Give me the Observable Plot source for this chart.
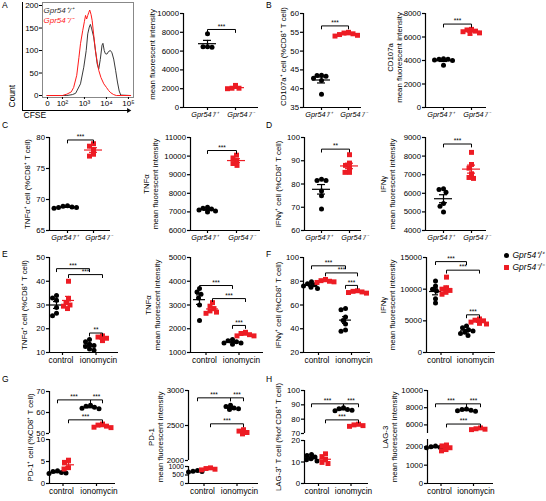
<!DOCTYPE html>
<html><head><meta charset="utf-8">
<script src="https://cdn.jsdelivr.net/npm/d3@7"></script>
<script src="https://cdn.jsdelivr.net/npm/@observablehq/plot@0.6"></script>
<style>
body{margin:0;background:#fff}
#root{position:relative;width:546px;height:501px;overflow:hidden;font-family:'Liberation Sans',Arial,sans-serif;background:#fff}
#root svg{position:absolute;background:transparent!important;overflow:visible}
.lt{position:absolute;font-size:8.5px;color:#000;line-height:1}
</style></head><body><div id="root"></div>
<script>
// ---------------- DATA ----------------
const genotypes = ["Gpr54⁺/⁺", "Gpr54⁻/⁻"];
const conditions = ["control", "ionomycin"];

// A: CFSE histogram (x = log10 decade position, "0" drawn at 1.32)
const cfseTicks = [1.32, 2, 3, 4, 5];
const cfseTickLabels = ["0", "10²", "10³", "10⁴", "10⁵"];
const countTicks = [0, 50, 100, 150, 200];
const histWTx = [1.3, 2.2, 2.45, 2.6, 2.82, 2.97, 3.08, 3.15, 3.22, 3.27, 3.33, 3.42, 3.5, 3.58, 3.65, 3.72, 3.8, 3.84, 3.9, 3.95, 4.02, 4.1, 4.18, 4.25, 4.33, 4.42, 4.5, 4.58, 4.65, 5.1];
const histWTcount = [0, 0, 2, 5, 26, 63, 100, 137, 152, 158, 148, 130, 100, 70, 59, 80, 112, 116, 100, 93, 92, 98, 100, 95, 81, 55, 30, 10, 1, 0];
const histKOx = [1.3, 2.0, 2.2, 2.4, 2.51, 2.65, 2.75, 2.82, 2.92, 3.0, 3.05, 3.1, 3.15, 3.2, 3.24, 3.3, 3.35, 3.42, 3.5, 3.58, 3.65, 3.75, 3.88, 4.0, 4.1, 4.2, 4.33, 4.45, 5.1];
const histKOcount = [0, 0, 3, 8, 18, 45, 85, 115, 144, 165, 178, 170, 178, 185, 190, 180, 167, 135, 100, 75, 56, 40, 26, 18, 11, 6, 2, 0, 0];

// Two-group panels: [WT values, KO values]
const cfseMfi = [[7850, 6450, 6400, 6450], [2000, 2050, 2050, 2350]];
const cd107aPct = [[43.6, 43.5, 43.3, 42.8, 42.2, 38.5], [55.0, 54.8, 54.6, 54.4, 54.2, 54.0]];
const cd107aMfi = [[4150, 4100, 4100, 4050, 4000, 3600], [6650, 6600, 6500, 6450, 6350, 6300]];
const tnfPct = [[69.0, 68.9, 68.8, 68.7, 68.7, 68.6], [79.0, 78.6, 78.0, 77.3, 77.0]];
const tnfMfi = [[7250, 7200, 7150, 7100, 7050, 7000], [10050, 9900, 9750, 9600, 9500]];
const ifnPct = [[82, 81.5, 81.5, 77, 75, 69.3], [92.6, 89, 88, 87, 85, 85]];
const ifnMfi = [[6250, 6200, 6050, 5450, 5300, 5000], [8200, 7550, 7350, 7050, 6850, 6800]];

// Four-group panels: [control WT, control KO, ionomycin WT, ionomycin KO]
const tnfPctStim = [[34, 33, 32, 29, 26.5, 25.5], [40, 32.5, 31, 30, 29.5, 28.5], [15.5, 14.5, 13.5, 13, 12.5, 11.5, 11], [17, 16.5, 16, 15]];
const tnfMfiStim = [[3700, 3550, 3450, 3300, 3000, 2350], [3100, 2950, 2850, 2750, 2700, 2650], [1550, 1500, 1450, 1400, 1400, 1350], [1850, 1800, 1750, 1700, 1700]];
const ifnPctStim = [[79.5, 78, 77, 76, 75, 74], [81.5, 80.5, 80, 79.5, 79], [57, 56, 50, 47, 44, 39, 38], [72, 71.5, 71, 70.5, 70]];
const ifnMfiStim = [[11300, 10500, 10000, 9700, 8500, 7800], [11900, 10200, 10000, 9800, 9500, 9200], [4200, 3900, 3600, 3400, 3200, 3000, 2700], [5300, 5100, 5000, 4800, 4600, 4500]];
const pd1Pct = [[2.9, 2.7, 2.5, 2.4, 2.3], [5.3, 4.8, 3.6, 3.3], [63.5, 63, 62.5, 62, 61.8], [54.5, 54, 53.5, 53, 52.8]];
const pd1Mfi = [[760, 720, 700, 680], [920, 880, 840, 800], [2790, 2770, 2750, 2740, 2730], [2440, 2420, 2400, 2380]];
const lag3Pct = [[13.5, 13, 12.3, 11.5, 11, 10.5], [13.8, 12.5, 11, 9.8, 9.3], [88, 87.3, 86.8, 86.3, 85.8], [76.5, 76, 75.5, 75]];
const lag3Mfi = [[2050, 2000, 1980, 1950, 1920], [2100, 2050, 1950, 1850, 1780], [7850, 7800, 7700, 7650, 7600], [5650, 5550, 5500, 5450]];

// Significance brackets: [from group, to group, height, label]
const bkCfseMfi = [[0, 1, 8300, "***"]];
const bkCd107aPct = [[0, 1, 56.7, "***"]];
const bkCd107aMfi = [[0, 1, 7100, "***"]];
const bkTnfPct = [[0, 1, 79.6, "***"]];
const bkTnfMfi = [[0, 1, 10300, "***"]];
const bkIfnPct = [[0, 1, 95, "**"]];
const bkIfnMfi = [[0, 1, 8650, "***"]];
const bkTnfPctStim = [[0, 2, 45.3, "***"], [1, 3, 42.8, "***"], [2, 3, 18.2, "**"]];
const bkTnfMfiStim = [[0, 2, 3820, "***"], [1, 3, 3270, "***"], [2, 3, 2140, "***"]];
const bkIfnPctStim = [[0, 2, 93, "***"], [1, 3, 87, "***"], [2, 3, 76.5, "***"]];
const bkIfnMfiStim = [[0, 2, 14350, "***"], [1, 3, 13000, "***"], [2, 3, 5950, "***"]];
const bkPd1Pct = [[0, 2, 66, "***"], [2, 3, 66, "***"], [1, 3, 56.5, "***"]];
const bkPd1Mfi = [[0, 2, 2895, "***"], [2, 3, 2895, "***"], [1, 3, 2524, "***"]];
const bkLag3Pct = [[0, 2, 90.7, "***"], [2, 3, 90.7, "***"], [1, 3, 79.5, "***"]];
const bkLag3Mfi = [[0, 2, 8450, "***"], [2, 3, 8450, "***"], [1, 3, 6100, "***"]];

// Y tick values
const tkCfseMfi = [0, 2000, 4000, 6000, 8000, 10000];
const tkCd107aPct = [35, 40, 45, 50, 55, 60];
const tkCd107aMfi = [0, 2000, 4000, 6000, 8000];
const tkTnfPct = [65, 70, 75, 80];
const tkTnfMfi = [6000, 7000, 8000, 9000, 10000, 11000];
const tkIfnPct = [60, 70, 80, 90, 100];
const tkIfnMfi = [4000, 5000, 6000, 7000, 8000, 9000];
const tkTnfPctStim = [10, 20, 30, 40, 50];
const tkTnfMfiStim = [1000, 2000, 3000, 4000, 5000];
const tkIfnPctStim = [20, 40, 60, 80, 100];
const tkIfnMfiStim = [0, 5000, 10000, 15000];
const tkPd1PctHi = [50, 60, 70], tkPd1PctLo = [0, 5, 10];
const tkPd1MfiHi = [2000, 2500, 3000], tkPd1MfiLo = [0, 500, 1000];
const tkLag3PctHi = [70, 80, 90, 100], tkLag3PctLo = [0, 10, 20];
const tkLag3MfiHi = [6000, 8000, 10000], tkLag3MfiLo = [0, 1000, 2000];

// ---------------- DRAWING ----------------
const root = document.getElementById("root");
const FONT = "'Liberation Sans', Arial, sans-serif";
const BLACK = "#000", RED = "#ed1c24";
const STYLE = {background: "transparent", overflow: "visible", fontFamily: FONT, fontSize: "8px", color: "#000"};

function place(svg, left, top) {
  svg.style.left = left + "px";
  svg.style.top = top + "px";
  root.appendChild(svg);
}

function swarmOffsets(values, pxY, r) {
  const idx = d3.range(values.length).sort((a, b) => values[b] - values[a]);
  const placed = [], off = new Array(values.length).fill(0);
  const cands = [0];
  for (let k = 1; k <= 60; k++) cands.push(-k * 0.5, k * 0.5);
  for (const i of idx) {
    const py = values[i] * pxY;
    for (const c of cands) {
      if (placed.every(p => (p.x - c) ** 2 + (p.y - py) ** 2 >= (2 * r) ** 2 * 0.8)) {
        off[i] = c; placed.push({x: c, y: py}); break;
      }
    }
  }
  return off;
}

function scatterPanel(L, groups, brackets) {
  const W = L.right - L.left;
  const segs = L.segs, n = segs.length;
  const pTop = segs[0].top, pBot = segs[n - 1].bottom;
  segs.forEach((s, si) => {
    const first = si === 0, last = si === n - 1;
    const H = s.bottom - s.top, pxY = H / (s.domain[1] - s.domain[0]);
    const inD = v => v >= s.domain[0] - 1e-9 && v <= s.domain[1] + 1e-9;
    const pts = [[], []], stats = [[], []];
    groups.forEach((vals, gi) => {
      const g = gi % 2, cx = L.gx[gi] - L.left;
      const off = swarmOffsets(vals, pxY, 2.4);
      vals.forEach((v, i) => { if (inD(v)) pts[g].push({x: cx + off[i], y: v}); });
      const m = d3.mean(vals), se = d3.deviation(vals) / Math.sqrt(vals.length);
      if (inD(m)) stats[g].push({x: cx, m, lo: m - se, hi: m + se});
    });
    const bk = [], bkText = [];
    if (first) brackets.forEach(([a, b, h, lab], k) => {
      if (!inD(h)) return;
      const x1 = L.gx[a] - L.left, x2 = L.gx[b] - L.left, t = 3 / pxY;
      bk.push({x: x1, y: h - t, k}, {x: x1, y: h, k}, {x: x2, y: h, k}, {x: x2, y: h - t, k});
      bkText.push({x: (x1 + x2) / 2, y: h, lab});
    });
    const mL = 70, mR = 8, mT = 10, mB = last ? 26 : 3;
    const tickFont = H < 30 ? 7 : 7.8;
    const marks = [
      Plot.ruleX([0], {y1: s.domain[0], y2: s.domain[1], stroke: BLACK, strokeWidth: 1.2}),
      Plot.axisY({ticks: s.ticks, tickSize: 3, tickPadding: 1.5, tickFormat: "d", label: null, strokeWidth: 1.2, fontSize: tickFont})
    ];
    if (last) {
      marks.push(
        Plot.ruleY([s.domain[0]], {x1: 0, x2: W, stroke: BLACK, strokeWidth: 1.2}),
        Plot.axisX({ticks: L.xTicks.map(d => d.x - L.left), tickSize: 3, fill: "none", label: null, strokeWidth: 1.2})
      );
      L.xTicks.forEach(t => marks.push(
        Plot.axisX({ticks: [t.x - L.left], tickFormat: () => t.label, tickSize: 0, tickPadding: 4.5, dx: t.dx,
          label: null, fontSize: L.italic ? 7.3 : 8.3, fontStyle: L.italic ? "italic" : "normal"})
      ));
    }
    [BLACK, RED].forEach((c, g) => {
      marks.push(
        Plot.dot(pts[g], {x: "x", y: "y", r: g ? 2.8 : 2.5, symbol: g ? "square" : "circle", fill: c, stroke: "none"}),
        Plot.ruleY(stats[g], {y: "m", x1: d => d.x - L.meanHalf, x2: d => d.x + L.meanHalf, stroke: c, strokeWidth: 1.2}),
        Plot.ruleX(stats[g], {x: "x", y1: "lo", y2: "hi", stroke: c, strokeWidth: 1.2}),
        Plot.ruleY(stats[g], {y: "lo", x1: d => d.x - L.capHalf, x2: d => d.x + L.capHalf, stroke: c, strokeWidth: 1.2}),
        Plot.ruleY(stats[g], {y: "hi", x1: d => d.x - L.capHalf, x2: d => d.x + L.capHalf, stroke: c, strokeWidth: 1.2})
      );
    });
    marks.push(
      Plot.line(bk, {x: "x", y: "y", z: "k", stroke: BLACK, strokeWidth: 1}),
      Plot.text(bkText, {x: "x", y: "y", text: "lab", dy: -3, fontSize: 6.5, lineAnchor: "middle"})
    );
    if (first) marks.push(Plot.text([L.title], {text: d => d, frameAnchor: "left", rotate: -90,
      textAnchor: "middle", lineAnchor: "middle",
      dx: -L.titleOffset, dy: (pTop + pBot) / 2 - (s.top + s.bottom) / 2 + (L.titleDy || 0), fontSize: 7.8, lineHeight: 1.15}));
    const svg = Plot.plot({
      width: W + mL + mR, height: H + mT + mB,
      marginLeft: mL, marginRight: mR, marginTop: mT, marginBottom: mB,
      x: {domain: [0, W], axis: null}, y: {domain: s.domain, axis: null},
      style: STYLE, marks
    });
    place(svg, L.left - mL, s.top - mT);
  });
}

function two(left, right, g, top, bottom, domain, ticks, title, off, titleDy) {
  return {left, right, gx: g, segs: [{top, bottom, domain, ticks}], italic: true, title, titleOffset: off, titleDy,
    xTicks: [{x: g[0], label: genotypes[0], dx: -3}, {x: g[1], label: genotypes[1], dx: 5}], meanHalf: 9, capHalf: 4};
}
function four(left, right, g, segs, title, off) {
  return {left, right, gx: g, segs, italic: false, title, titleOffset: off,
    xTicks: [{x: (g[0] + g[1]) / 2, label: conditions[0], dx: -1.5}, {x: (g[2] + g[3]) / 2, label: conditions[1], dx: 2.5}], meanHalf: 6, capHalf: 3};
}
const MFI = "mean fluorescent intensity";

// --- Panel A: histogram ---
(function () {
  const oW = 106, oH = 108;
  const outer = Plot.plot({
    width: oW + 22 + 6, height: oH + 2 + 14, marginLeft: 22, marginRight: 6, marginTop: 2, marginBottom: 14,
    x: {domain: [0, 1], axis: null}, y: {domain: [0, 1], axis: null}, style: STYLE,
    marks: [
      Plot.ruleX([0], {stroke: BLACK, strokeWidth: 1}),
      Plot.ruleY([0], {stroke: BLACK, strokeWidth: 1}),
      Plot.dot([1], {x: d => d, y: 0, symbol: "triangle", rotate: 90, r: 1.8, fill: BLACK, stroke: "none"}),
      Plot.text(["Count"], {text: d => d, frameAnchor: "bottom-left", rotate: -90, textAnchor: "start", dx: -8, dy: -3, fontSize: 8.5}),
      Plot.text(["CFSE"], {text: d => d, frameAnchor: "bottom-left", textAnchor: "start", dx: 1, dy: 7, fontSize: 8.5})
    ]
  });
  place(outer, 0, 0);
  const box = {left: 42, right: 133, top: 2, bottom: 97};
  const mL = 24, mR = 6, mT = 2, mB = 12;
  const W = box.right - box.left, H = box.bottom - box.top;
  const hist = Plot.plot({
    width: W + mL + mR, height: H + mT + mB, marginLeft: mL, marginRight: mR, marginTop: mT, marginBottom: mB,
    x: {domain: [1.093, 5.23], axis: null}, y: {domain: [-4.4, 206.7], axis: null}, style: STYLE,
    marks: [
      Plot.frame({stroke: "#888", strokeWidth: 1}),
      Plot.line(histWTx, {x: d => d, y: (d, i) => histWTcount[i], stroke: "#3a3a3a", strokeWidth: 1}),
      Plot.line(histKOx, {x: d => d, y: (d, i) => histKOcount[i], stroke: "#ff1a1a", strokeWidth: 1}),
      Plot.axisY({ticks: countTicks, tickSize: 3, tickPadding: 1, tickFormat: "d", label: null, fontSize: 8}),
      Plot.axisX({ticks: cfseTicks, tickFormat: d => cfseTickLabels[cfseTicks.indexOf(d)], tickSize: 2, tickPadding: 0.5, label: null, fontSize: 8}),
      Plot.text([genotypes[0]], {text: d => d, frameAnchor: "top-left", textAnchor: "start", dx: 1, dy: 4.5, fill: "#333", fontStyle: "italic", fontSize: 8}),
      Plot.text([genotypes[1]], {text: d => d, frameAnchor: "top-left", textAnchor: "start", dx: 1, dy: 15, fill: "#ff1a1a", fontStyle: "italic", fontSize: 8})
    ]
  });
  place(hist, box.left - mL, box.top - mT);
})();

// --- scatter panels ---
scatterPanel(two(183, 258, [207, 235], 13, 107, [0, 10000], tkCfseMfi, MFI, 31, -6), cfseMfi, bkCfseMfi);
scatterPanel(two(303, 361, [321, 348], 13, 107, [35, 60], tkCd107aPct, "CD107a⁺ cell (%CD8⁺ T cell)", 20, -4), cd107aPct, bkCd107aPct);
scatterPanel(two(425, 486, [443, 471], 13, 107, [0, 8000], tkCd107aMfi, "CD107a\n" + MFI, 31, -3), cd107aMfi, bkCd107aMfi);

scatterPanel(two(49, 110, [67, 93], 137, 230, [65, 80], tkTnfPct, "TNFα⁺ cell (%CD8⁺ T cell)", 22), tnfPct, bkTnfPct);
scatterPanel(two(190, 260, [207, 236], 137, 230, [6000, 11000], tkTnfMfi, "TNFα\n" + MFI, 40), tnfMfi, bkTnfMfi);
scatterPanel(two(304, 361, [321, 349], 137, 230, [60, 100], tkIfnPct, "IFNγ⁺ cell (%CD8⁺ T cell)", 26), ifnPct, bkIfnPct);
scatterPanel(two(425, 486, [443, 471], 137, 230, [4000, 9000], tkIfnMfi, "IFNγ\n" + MFI, 38), ifnMfi, bkIfnMfi);

scatterPanel(four(49, 118, [56, 68, 89, 102], [{top: 257, bottom: 352, domain: [10, 50], ticks: tkTnfPctStim}], "TNFα⁺ cell (%CD8⁺ T cell)", 25), tnfPctStim, bkTnfPctStim);
scatterPanel(four(190, 263, [199, 212, 232, 245], [{top: 257, bottom: 352, domain: [1000, 5000], ticks: tkTnfMfiStim}], "TNFα\n" + MFI, 37.5), tnfMfiStim, bkTnfMfiStim);
scatterPanel(four(303, 370, [311, 325, 345, 357], [{top: 257, bottom: 352, domain: [20, 100], ticks: tkIfnPctStim}], "IFNγ⁺ cell (%CD8⁺ T cell)", 25), ifnPctStim, bkIfnPctStim);
scatterPanel(four(426, 495, [435, 446, 466, 479], [{top: 257, bottom: 352, domain: [0, 15000], ticks: tkIfnMfiStim}], "IFNγ\n" + MFI, 38.5), ifnMfiStim, bkIfnMfiStim);

scatterPanel(four(49, 115, [57, 68, 90, 102], [
  {top: 391, bottom: 433, domain: [50, 70], ticks: tkPd1PctHi},
  {top: 439, bottom: 483, domain: [0, 10], ticks: tkPd1PctLo}], "PD-1⁺ cell (%CD8⁺ T cell)", 19), pd1Pct, bkPd1Pct);
scatterPanel(four(188, 258, [197, 210, 230, 243], [
  {top: 390, bottom: 460, domain: [2000, 3000], ticks: tkPd1MfiHi},
  {top: 466, bottom: 483, domain: [0, 1000], ticks: tkPd1MfiLo}], "PD-1\n" + MFI, 33), pd1Mfi, bkPd1Mfi);
scatterPanel(four(304, 368, [311, 325, 343, 358], [
  {top: 390, bottom: 433, domain: [70, 100], ticks: tkLag3PctHi},
  {top: 440, bottom: 483, domain: [0, 20], ticks: tkLag3PctLo}], "LAG-3⁺ T cell (%of CD8⁺ T cell)", 26), lag3Pct, bkLag3Pct);
scatterPanel(four(427, 493, [435, 446, 466, 480], [
  {top: 390, bottom: 433, domain: [5000, 10000], ticks: tkLag3MfiHi},
  {top: 439, bottom: 483, domain: [0, 2400], ticks: tkLag3MfiLo}], "LAG-3\n" + MFI, 38), lag3Mfi, bkLag3Mfi);

// --- legend for E–H ---
const legend = Plot.plot({
  width: 46, height: 24, marginLeft: 6, marginRight: 0, marginTop: 6, marginBottom: 6,
  x: {domain: [0, 1], axis: null}, y: {domain: genotypes, type: "point", padding: 0, axis: null}, style: STYLE,
  marks: [
    Plot.dot([genotypes[0]], {x: 0, y: d => d, r: 2.5, fill: BLACK, stroke: "none"}),
    Plot.dot([genotypes[1]], {x: 0, y: d => d, r: 2.8, symbol: "square", fill: RED, stroke: "none"}),
    Plot.text(genotypes, {x: 0, y: d => d, text: d => d, dx: 6, textAnchor: "start", fontStyle: "italic", fontSize: 8.5})
  ]
});
place(legend, 500, 249);

// --- panel letters ---
[["A", 2, 1], ["B", 266, 1], ["C", 2, 121], ["D", 266, 121], ["E", 2, 250], ["F", 266, 250], ["G", 2, 375], ["H", 266, 375]]
  .forEach(([t, x, y]) => {
    const d = document.createElement("div");
    d.className = "lt"; d.textContent = t; d.style.left = x + "px"; d.style.top = y + "px";
    root.appendChild(d);
  });
</script>
</body></html>
